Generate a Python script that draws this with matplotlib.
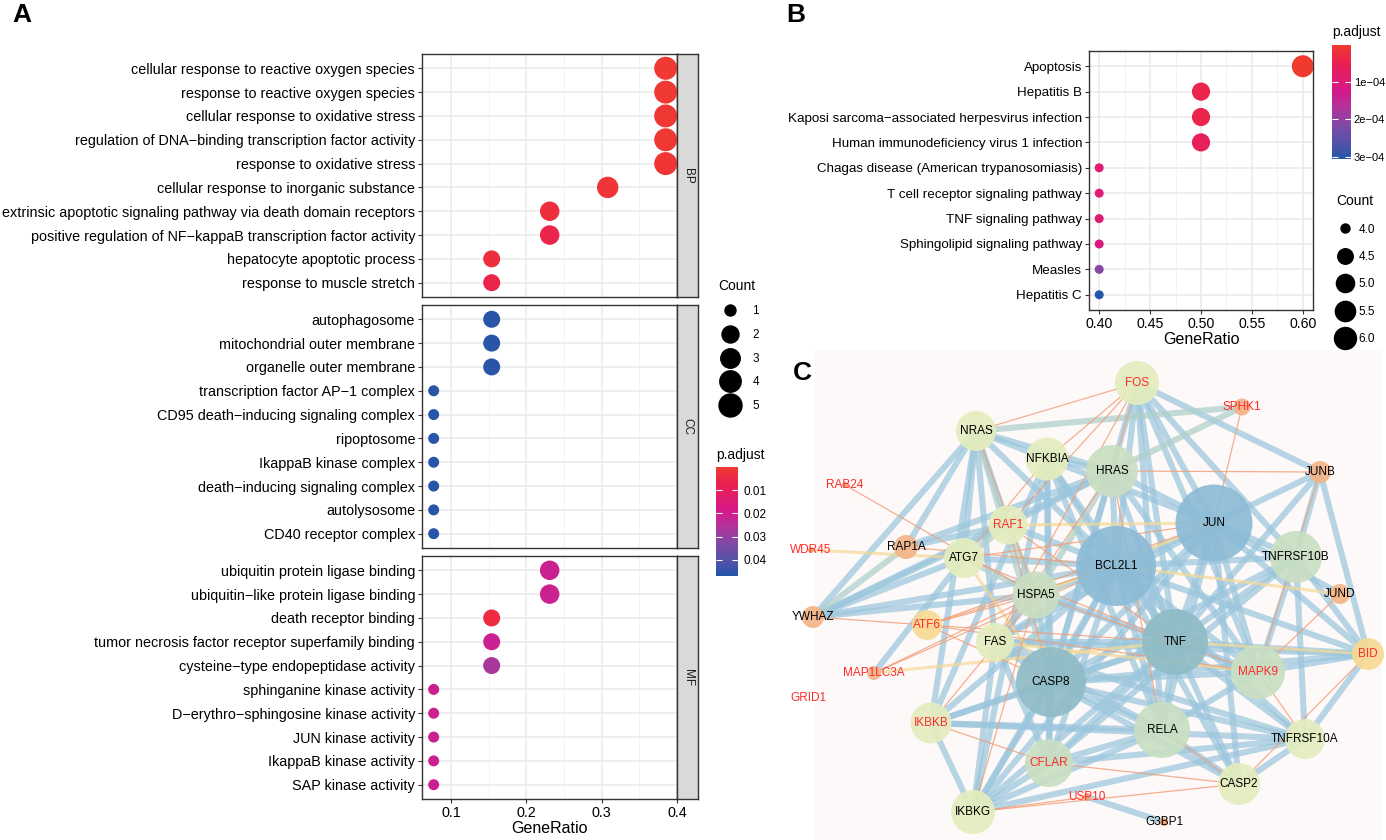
import numpy as np
import matplotlib
matplotlib.use('Agg')
import matplotlib.pyplot as plt
from matplotlib.colors import LinearSegmentedColormap, Normalize
from matplotlib.cm import ScalarMappable
from matplotlib.lines import Line2D

plt.rcParams['font.family'] = ['Liberation Sans', 'DejaVu Sans']

# ---------------- panel A data (GO enrichment) ----------------
bp_terms = ['cellular response to reactive oxygen species',
            'response to reactive oxygen species',
            'cellular response to oxidative stress',
            'regulation of DNA\u2212binding transcription factor activity',
            'response to oxidative stress',
            'cellular response to inorganic substance',
            'extrinsic apoptotic signaling pathway via death domain receptors',
            'positive regulation of NF\u2212kappaB transcription factor activity',
            'hepatocyte apoptotic process',
            'response to muscle stretch']
bp_ratio = [0.385, 0.385, 0.385, 0.385, 0.385, 0.308, 0.231, 0.231, 0.154, 0.154]
bp_count = [5, 5, 5, 5, 5, 4, 3, 3, 2, 2]
bp_padj = [0.0005, 0.0005, 0.001, 0.001, 0.0012, 0.0015, 0.003, 0.006, 0.003, 0.006]

cc_terms = ['autophagosome', 'mitochondrial outer membrane', 'organelle outer membrane',
            'transcription factor AP\u22121 complex', 'CD95 death\u2212inducing signaling complex',
            'ripoptosome', 'IkappaB kinase complex', 'death\u2212inducing signaling complex',
            'autolysosome', 'CD40 receptor complex']
cc_ratio = [0.154, 0.154, 0.154, 0.077, 0.077, 0.077, 0.077, 0.077, 0.077, 0.077]
cc_count = [2, 2, 2, 1, 1, 1, 1, 1, 1, 1]
cc_padj = [0.046, 0.046, 0.046, 0.046, 0.046, 0.046, 0.046, 0.046, 0.046, 0.046]

mf_terms = ['ubiquitin protein ligase binding', 'ubiquitin\u2212like protein ligase binding',
            'death receptor binding', 'tumor necrosis factor receptor superfamily binding',
            'cysteine\u2212type endopeptidase activity', 'sphinganine kinase activity',
            'D\u2212erythro\u2212sphingosine kinase activity', 'JUN kinase activity',
            'IkappaB kinase activity', 'SAP kinase activity']
mf_ratio = [0.231, 0.231, 0.154, 0.154, 0.154, 0.077, 0.077, 0.077, 0.077, 0.077]
mf_count = [3, 3, 2, 2, 2, 1, 1, 1, 1, 1]
mf_padj = [0.021, 0.021, 0.004, 0.021, 0.027, 0.021, 0.021, 0.021, 0.021, 0.021]

a_xticks = [0.1, 0.2, 0.3, 0.4]
a_count_legend = [1, 2, 3, 4, 5]
a_padj_ticks = [0.01, 0.02, 0.03, 0.04]

# ---------------- panel B data (KEGG) ----------------
kegg_terms = ['Apoptosis', 'Hepatitis B', 'Kaposi sarcoma\u2212associated herpesvirus infection',
              'Human immunodeficiency virus 1 infection', 'Chagas disease (American trypanosomiasis)',
              'T cell receptor signaling pathway', 'TNF signaling pathway',
              'Sphingolipid signaling pathway', 'Measles', 'Hepatitis C']
kegg_ratio = [0.6, 0.5, 0.5, 0.5, 0.4, 0.4, 0.4, 0.4, 0.4, 0.4]
kegg_count = [6, 5, 5, 5, 4, 4, 4, 4, 4, 4]
kegg_padj = [2e-6, 4e-5, 4e-5, 6e-5, 9e-5, 9e-5, 9.5e-5, 1.1e-4, 2.1e-4, 3.05e-4]
b_xticks = [0.40, 0.45, 0.50, 0.55, 0.60]
b_count_legend = [4.0, 4.5, 5.0, 5.5, 6.0]
b_padj_ticks = [1e-4, 2e-4, 3e-4]
b_padj_labels = ['1e\u221204', '2e\u221204', '3e\u221204']

# ---------------- panel C data (PPI network, layout in pixels) ----------------
node_names = ['FOS', 'SPHK1', 'NRAS', 'NFKBIA', 'HRAS', 'JUNB', 'RAB24', 'JUN', 'RAF1',
              'RAP1A', 'WDR45', 'ATG7', 'BCL2L1', 'TNFRSF10B', 'HSPA5', 'JUND', 'YWHAZ',
              'ATF6', 'FAS', 'TNF', 'BID', 'MAP1LC3A', 'MAPK9', 'CASP8', 'GRID1', 'IKBKB',
              'RELA', 'TNFRSF10A', 'CFLAR', 'CASP2', 'USP10', 'IKBKG', 'G3BP1']
node_x = [1137, 1242, 976, 1047, 1112, 1320, 845, 1214, 1008,
          906, 811, 964, 1116, 1296, 1036, 1340, 813,
          927, 995, 1175, 1368, 874, 1258, 1051, 808, 931,
          1162, 1305, 1049, 1239, 1087, 973, 1164]
node_y = [383, 407, 431, 459, 471, 472, 485, 523, 525,
          547, 550, 558, 566, 557, 595, 594, 617,
          625, 642, 642, 654, 673, 672, 682, 698, 723,
          730, 739, 763, 784, 797, 812, 822]
node_d = [44, 17, 40, 43, 52, 22, 6, 77, 39,
          24, 6, 40, 80, 52, 47, 20, 22,
          30, 38, 66, 32, 14, 54, 70, 0, 41,
          56, 40, 48, 42, 8, 44, 8]
node_group = ['pale', 'orange', 'pale', 'pale', 'green', 'orange', 'tiny', 'blue', 'pale',
              'orange', 'tiny', 'pale', 'blue', 'green', 'green', 'orange', 'orange',
              'yellow', 'pale', 'teal', 'yellow', 'orange', 'green', 'teal', 'tiny', 'pale',
              'green', 'pale', 'green', 'pale', 'tiny', 'pale', 'tiny']
red_labels = ['FOS', 'SPHK1', 'RAB24', 'RAF1', 'WDR45', 'ATF6', 'MAP1LC3A', 'GRID1',
              'IKBKB', 'CFLAR', 'USP10', 'MAPK9', 'BID']

edges_blue = [
    ('FOS', 'JUN'), ('FOS', 'JUNB'), ('FOS', 'TNF'), ('FOS', 'BCL2L1'), ('FOS', 'TNFRSF10B'),
    ('FOS', 'MAPK9'), ('FOS', 'CASP8'), ('FOS', 'RELA'),
    ('NRAS', 'HRAS'), ('NRAS', 'NFKBIA'), ('NRAS', 'RAF1'), ('NRAS', 'RAP1A'), ('NRAS', 'YWHAZ'),
    ('NRAS', 'BCL2L1'), ('NRAS', 'ATG7'), ('NRAS', 'IKBKB'), ('NRAS', 'FAS'),
    ('NFKBIA', 'RELA'), ('NFKBIA', 'TNF'), ('NFKBIA', 'IKBKB'), ('NFKBIA', 'IKBKG'),
    ('NFKBIA', 'CASP8'), ('NFKBIA', 'BCL2L1'), ('NFKBIA', 'HRAS'), ('NFKBIA', 'JUN'),
    ('NFKBIA', 'CFLAR'),
    ('HRAS', 'RAF1'), ('HRAS', 'RAP1A'), ('HRAS', 'YWHAZ'), ('HRAS', 'BCL2L1'), ('HRAS', 'JUN'),
    ('HRAS', 'TNF'), ('HRAS', 'CASP8'), ('HRAS', 'MAPK9'),
    ('RAF1', 'YWHAZ'), ('RAF1', 'RAP1A'), ('RAF1', 'BCL2L1'),
    ('JUNB', 'JUN'), ('JUNB', 'TNFRSF10B'), ('JUNB', 'BID'), ('JUNB', 'TNF'),
    ('JUN', 'TNFRSF10B'), ('JUN', 'BCL2L1'), ('JUN', 'TNF'), ('JUN', 'MAPK9'), ('JUN', 'CASP8'),
    ('JUN', 'FAS'), ('JUN', 'RELA'), ('JUN', 'JUND'), ('JUN', 'BID'), ('JUN', 'IKBKG'),
    ('JUN', 'CASP2'),
    ('YWHAZ', 'ATG7'), ('YWHAZ', 'HSPA5'), ('YWHAZ', 'BCL2L1'),
    ('ATG7', 'MAP1LC3A'), ('ATG7', 'BCL2L1'),
    ('BCL2L1', 'TNF'), ('BCL2L1', 'CASP8'), ('BCL2L1', 'MAPK9'), ('BCL2L1', 'RELA'),
    ('BCL2L1', 'BID'), ('BCL2L1', 'HSPA5'), ('BCL2L1', 'FAS'), ('BCL2L1', 'TNFRSF10B'),
    ('BCL2L1', 'CFLAR'), ('BCL2L1', 'IKBKB'), ('BCL2L1', 'IKBKG'), ('BCL2L1', 'CASP2'),
    ('BCL2L1', 'TNFRSF10A'),
    ('TNFRSF10B', 'TNF'), ('TNFRSF10B', 'CASP8'), ('TNFRSF10B', 'TNFRSF10A'),
    ('TNFRSF10B', 'BID'), ('TNFRSF10B', 'CFLAR'), ('TNFRSF10B', 'MAPK9'),
    ('HSPA5', 'CASP8'), ('HSPA5', 'TNF'), ('HSPA5', 'FAS'),
    ('FAS', 'CASP8'), ('FAS', 'TNF'), ('FAS', 'RELA'), ('FAS', 'CFLAR'), ('FAS', 'IKBKG'),
    ('FAS', 'TNFRSF10A'), ('FAS', 'BID'),
    ('TNF', 'RELA'), ('TNF', 'CASP8'), ('TNF', 'MAPK9'), ('TNF', 'IKBKB'), ('TNF', 'IKBKG'),
    ('TNF', 'CFLAR'), ('TNF', 'CASP2'), ('TNF', 'TNFRSF10A'), ('TNF', 'BID'),
    ('BID', 'CASP8'), ('BID', 'TNFRSF10A'), ('BID', 'MAPK9'),
    ('MAPK9', 'CASP8'), ('MAPK9', 'RELA'),
    ('CASP8', 'RELA'), ('CASP8', 'IKBKB'), ('CASP8', 'IKBKG'), ('CASP8', 'CFLAR'),
    ('CASP8', 'CASP2'), ('CASP8', 'TNFRSF10A'),
    ('IKBKB', 'IKBKG'), ('IKBKB', 'RELA'), ('IKBKB', 'TNFRSF10A'),
    ('RELA', 'IKBKG'), ('RELA', 'CFLAR'), ('RELA', 'CASP2'),
    ('TNFRSF10A', 'CFLAR'), ('TNFRSF10A', 'CASP2'), ('TNFRSF10A', 'IKBKG'),
    ('CFLAR', 'IKBKG'), ('USP10', 'G3BP1')]
edges_grey = [('NRAS', 'SPHK1'), ('HRAS', 'SPHK1'), ('NRAS', 'CASP8'), ('HRAS', 'HSPA5'),
              ('RAF1', 'ATG7'), ('YWHAZ', 'RAP1A'), ('ATG7', 'HSPA5'), ('RAF1', 'HSPA5')]
edges_yellow = [('WDR45', 'ATG7'), ('MAP1LC3A', 'TNF'), ('HSPA5', 'JUN'), ('BCL2L1', 'JUND'),
                ('BID', 'TNF'), ('FAS', 'MAPK9'), ('ATG7', 'CASP8'), ('RAF1', 'JUN')]
edges_orange = [
    ('FOS', 'NRAS'), ('FOS', 'HRAS'), ('FOS', 'RAF1'), ('FOS', 'NFKBIA'), ('FOS', 'FAS'),
    ('SPHK1', 'JUN'), ('HRAS', 'JUNB'), ('RAB24', 'HSPA5'), ('NRAS', 'HSPA5'),
    ('RAF1', 'TNF'), ('ATF6', 'HSPA5'), ('ATF6', 'BCL2L1'), ('ATF6', 'TNF'), ('ATF6', 'CASP8'),
    ('ATF6', 'MAPK9'), ('ATF6', 'JUN'), ('YWHAZ', 'ATF6'), ('MAP1LC3A', 'BCL2L1'),
    ('MAP1LC3A', 'HSPA5'), ('JUNB', 'MAPK9'), ('JUND', 'MAPK9'), ('IKBKB', 'CFLAR'),
    ('IKBKG', 'CASP2'), ('IKBKG', 'USP10'), ('CFLAR', 'CASP2'), ('RELA', 'CASP2'),
    ('HSPA5', 'MAPK9'), ('HRAS', 'FAS'), ('JUN', 'ATG7'), ('RAF1', 'CASP8'),
    ('IKBKB', 'HSPA5'), ('TNFRSF10A', 'MAPK9'), ('BID', 'CASP2'), ('ATG7', 'TNF'),
    ('NFKBIA', 'ATG7'), ('HRAS', 'RELA'), ('RAP1A', 'BCL2L1'), ('IKBKG', 'HSPA5')]

# ---------------- styling helpers ----------------
W, H = 1386, 840
cmap = LinearSegmentedColormap.from_list(
    'padj', [(0.0, '#F03A30'), (0.15, '#EA2050'), (0.4, '#D6188A'), (0.55, '#B2339A'),
             (0.72, '#7B4BA6'), (0.88, '#4E52A8'), (1.0, '#2256A8')])
group_color = {'pale': '#E4EDBE', 'green': '#C9DFC2', 'blue': '#8CBBD6', 'teal': '#8FBCC6',
               'orange': '#F3B487', 'yellow': '#F7DA94', 'tiny': '#F0A070'}


def box(l, t, r, b):
    return [l / W, 1 - b / H, (r - l) / W, (b - t) / H]


def size_scale(vals, vmin, vmax, dmin, dmax):
    # ggplot area scale: diameter grows with sqrt of rescaled value; returns points^2
    t = (np.asarray(vals, float) - vmin) / (vmax - vmin)
    d = dmin + (dmax - dmin) * np.sqrt(t)
    return (d * 0.72) ** 2


def dotplot(ax, terms, ratio, count, padj, norm, sz, xlim, xticks, minor, fs):
    n = len(terms)
    ypos = np.arange(n)[::-1]
    ax.scatter(ratio, ypos, s=sz(count), c=padj, cmap=cmap, norm=norm,
               linewidths=0, zorder=3)
    ax.set_yticks(ypos)
    ax.set_yticklabels(terms, fontsize=fs, color='black')
    ax.set_ylim(-0.6, n - 0.4)
    ax.set_xlim(xlim)
    ax.set_xticks(xticks)
    ax.set_xticks(minor, minor=True)
    ax.grid(which='major', color='#EBEBEB', lw=1.2)
    ax.grid(which='minor', axis='x', color='#F3F3F3', lw=0.7)
    ax.set_axisbelow(True)
    for s in ax.spines.values():
        s.set_color('#333333')
        s.set_linewidth(1.0)
    ax.tick_params(which='major', length=3, width=0.8, color='#333333', labelsize=fs,
                   labelcolor='black', pad=2)
    ax.tick_params(which='minor', length=0)


fig = plt.figure(figsize=(W / 100, H / 100), dpi=100)

# ---------------- panel A ----------------
normA = Normalize(0.0, 0.047)
szA = lambda c: size_scale(c, 1, 5, 11, 23)
rowsA = [(bp_terms, bp_ratio, bp_count, bp_padj, 'BP', 54, 297),
         (cc_terms, cc_ratio, cc_count, cc_padj, 'CC', 305, 548),
         (mf_terms, mf_ratio, mf_count, mf_padj, 'MF', 556, 799)]
for terms, ratio, count, padj, lab, top, bot in rowsA:
    ax = fig.add_axes(box(422, top, 677, bot))
    dotplot(ax, terms, ratio, count, padj, normA, szA, (0.0615, 0.4), a_xticks,
            [0.15, 0.25, 0.35], 10.4)
    if lab != 'MF':
        ax.tick_params(axis='x', which='both', bottom=False, labelbottom=False)
    else:
        ax.set_xticklabels(['%.1f' % v for v in a_xticks])
        ax.set_xlabel('GeneRatio', fontsize=11.5, labelpad=1)
    st = fig.add_axes(box(677, top, 698, bot))
    st.set_facecolor('#D9D9D9')
    st.set_xticks([])
    st.set_yticks([])
    for s in st.spines.values():
        s.set_color('#333333')
        s.set_linewidth(1.0)
    st.text(0.5, 0.5, lab, rotation=270, ha='center', va='center', fontsize=8.5,
            color='#1A1A1A', transform=st.transAxes)

# size legend A
hA = [Line2D([], [], ls='', marker='o', color='black',
             markersize=np.sqrt(v)) for v in szA(a_count_legend)]
fig.legend(hA, [str(c) for c in a_count_legend], loc='upper left',
           bbox_to_anchor=(710 / W, 1 - 271 / H), frameon=False, title='Count',
           prop={'size': 8.5}, labelspacing=1.0, handletextpad=0.9,
           borderpad=0.2, alignment='left', title_fontproperties={'size': 10})

# colorbar A
caxA = fig.add_axes(box(716, 467, 738, 576))
cbA = fig.colorbar(ScalarMappable(normA, cmap), cax=caxA, ticks=a_padj_ticks)
caxA.invert_yaxis()
cbA.outline.set_visible(False)
caxA.tick_params(direction='in', length=4, width=0.8, color='white', labelsize=8.5, pad=4,
                 left=True)
cbA.set_ticklabels(['%.2f' % v for v in a_padj_ticks])
fig.text(716 / W, 1 - 455 / H, 'p.adjust', fontsize=10, va='center', ha='left')

# ---------------- panel B ----------------
normB = Normalize(2e-6, 3.05e-4)
szB = lambda c: size_scale(c, 4, 6, 9, 22)
axB = fig.add_axes(box(1089, 51, 1313, 310))
dotplot(axB, kegg_terms, kegg_ratio, kegg_count, kegg_padj, normB, szB, (0.39, 0.61),
        b_xticks, [0.425, 0.475, 0.525, 0.575], 9.6)
axB.set_xticklabels(['%.2f' % v for v in b_xticks], fontsize=10.2)
axB.set_xlabel('GeneRatio', fontsize=11.5, labelpad=1)

caxB = fig.add_axes(box(1332, 45, 1351, 159))
cbB = fig.colorbar(ScalarMappable(normB, cmap), cax=caxB, ticks=b_padj_ticks)
caxB.invert_yaxis()
cbB.outline.set_visible(False)
caxB.tick_params(direction='in', length=4, width=0.8, color='white', labelsize=8, pad=2,
                 left=True)
cbB.set_ticklabels(b_padj_labels)
fig.text(1332 / W, 1 - 32 / H, 'p.adjust', fontsize=10, va='center', ha='left')

hB = [Line2D([], [], ls='', marker='o', color='black',
             markersize=np.sqrt(v)) for v in szB(b_count_legend)]
fig.legend(hB, ['%.1f' % c for c in b_count_legend], loc='upper left',
           bbox_to_anchor=(1328 / W, 1 - 186 / H), frameon=False, title='Count',
           prop={'size': 8.5}, labelspacing=1.3, handlelength=1.4, handletextpad=0.5,
           borderpad=0.2, alignment='left', title_fontproperties={'size': 10})

# ---------------- panel C ----------------
axC = fig.add_axes(box(815, 350, 1382, 840))
axC.set_facecolor('#FDF9F9')
axC.set_xlim(815, 1382)
axC.set_ylim(840, 350)
axC.set_xticks([])
axC.set_yticks([])
for s in axC.spines.values():
    s.set_visible(False)

idx = {n: i for i, n in enumerate(node_names)}


def draw_edges(elist, color, lw, alpha, z):
    for a, b in elist:
        i, j = idx[a], idx[b]
        axC.plot([node_x[i], node_x[j]], [node_y[i], node_y[j]], color=color, lw=lw,
                 alpha=alpha, solid_capstyle='butt', zorder=z, clip_on=False)


draw_edges(edges_blue, '#9BC6DD', 4.4, 0.72, 1)
draw_edges(edges_grey, '#AFCFCB', 4.4, 0.72, 1)
draw_edges(edges_yellow, '#F6D996', 2.2, 0.7, 2)
draw_edges(edges_orange, '#F29C74', 0.9, 0.8, 2)

node_s = [(d * 0.72) ** 2 for d in node_d]
axC.scatter(node_x, node_y, s=node_s, c=[group_color[g] for g in node_group],
            alpha=0.92, linewidths=0, zorder=3, clip_on=False)
for n, x, y in zip(node_names, node_x, node_y):
    axC.text(x, y, n, ha='center', va='center', fontsize=8.5, zorder=4,
             color='#FF2A2A' if n in red_labels else 'black', clip_on=False)

# panel letters
for letter, x, y in [('A', 12, 15), ('B', 786, 15), ('C', 793, 373)]:
    fig.text(x / W, 1 - y / H, letter, fontsize=19, weight='bold',
             ha='left', va='center')

fig.savefig('out.png', dpi=100)
